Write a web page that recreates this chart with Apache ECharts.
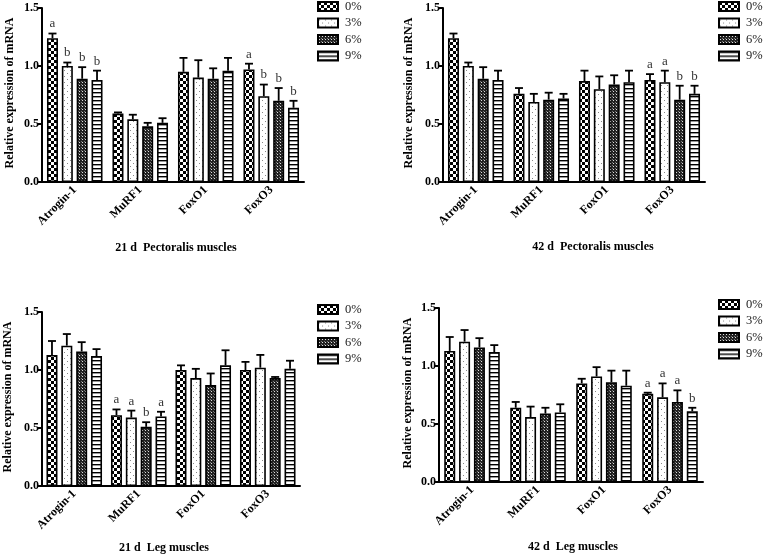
<!DOCTYPE html>
<html>
<head>
<meta charset="utf-8">
<script src="https://cdn.jsdelivr.net/npm/echarts@6/dist/echarts.min.js"></script>
<style>
  html, body { margin: 0; padding: 0; background: #fff; }
  #chart { width: 767px; height: 557px; }
</style>
</head>
<body>
<div id="chart"></div>
<script>
// 基因 / 剂量
var categories = ['Atrogin-1', 'MuRF1', 'FoxO1', 'FoxO3'];
var doses = ['0%', '3%', '6%', '9%'];
var yTicks = [0, 0.5, 1.0, 1.5];

// 每组: 0%, 3%, 6%, 9% -> 各基因的均值
var pec21Mean = [[1.24, 0.59, 0.95, 0.97], [1.00, 0.54, 0.90, 0.74], [0.89, 0.48, 0.89, 0.70], [0.88, 0.51, 0.96, 0.64]];
var pec21Err = [[0.04, 0.01, 0.12, 0.05], [0.03, 0.04, 0.15, 0.10], [0.10, 0.03, 0.09, 0.11], [0.08, 0.04, 0.11, 0.06]];
var pec21Letters = [['a', '', '', 'a'], ['b', '', '', 'b'], ['b', '', '', 'b'], ['b', '', '', 'b']];

var pec42Mean = [[1.24, 0.76, 0.87, 0.88], [1.00, 0.69, 0.80, 0.86], [0.89, 0.71, 0.84, 0.71], [0.88, 0.72, 0.86, 0.76]];
var pec42Err = [[0.04, 0.05, 0.09, 0.05], [0.03, 0.07, 0.11, 0.10], [0.10, 0.06, 0.08, 0.12], [0.08, 0.04, 0.10, 0.07]];
var pec42Letters = [['', '', '', 'a'], ['', '', '', 'a'], ['', '', '', 'b'], ['', '', '', 'b']];

var leg21Mean = [[1.13, 0.61, 1.00, 1.00], [1.21, 0.59, 0.93, 1.02], [1.16, 0.51, 0.87, 0.93], [1.12, 0.60, 1.04, 1.01]];
var leg21Err = [[0.12, 0.05, 0.04, 0.07], [0.10, 0.06, 0.08, 0.11], [0.08, 0.04, 0.10, 0.01], [0.06, 0.04, 0.13, 0.07]];
var leg21Letters = [['', 'a', '', ''], ['', 'a', '', ''], ['', 'b', '', ''], ['', 'a', '', '']];

var leg42Mean = [[1.13, 0.64, 0.85, 0.76], [1.21, 0.56, 0.91, 0.73], [1.16, 0.59, 0.86, 0.69], [1.12, 0.60, 0.83, 0.61]];
var leg42Err = [[0.12, 0.05, 0.04, 0.01], [0.10, 0.09, 0.08, 0.12], [0.08, 0.05, 0.10, 0.10], [0.06, 0.07, 0.13, 0.03]];
var leg42Letters = [['', '', '', 'a'], ['', '', '', 'a'], ['', '', '', 'a'], ['', '', '', 'b']];

var titles = ['21 d  Pectoralis muscles', '42 d  Pectoralis muscles', '21 d  Leg muscles', '42 d  Leg muscles'];

var BAR_W = 11;
var GAP = 0.35;
var SERIF = '"Liberation Serif", "Times New Roman", serif';

// 图案填充
function makePattern(kind) {
    var c = document.createElement('canvas');
    var ctx;
    if (kind == 'checker') {
        c.width = 6; c.height = 6; ctx = c.getContext('2d');
        ctx.fillStyle = '#fff'; ctx.fillRect(0, 0, 6, 6);
        ctx.fillStyle = '#000'; ctx.fillRect(0, 0, 3, 3); ctx.fillRect(3, 3, 3, 3);
    } else if (kind == 'dots') {
        c.width = 6; c.height = 6; ctx = c.getContext('2d');
        ctx.fillStyle = '#fff'; ctx.fillRect(0, 0, 6, 6);
        ctx.fillStyle = '#888'; ctx.fillRect(1, 1, 1, 1); ctx.fillRect(4, 4, 1, 1);
    } else if (kind == 'fine') {
        c.width = 3; c.height = 3; ctx = c.getContext('2d');
        ctx.fillStyle = '#222'; ctx.fillRect(0, 0, 3, 3);
        ctx.fillStyle = '#ddd'; ctx.fillRect(1, 1, 1, 1);
        ctx.fillStyle = '#777'; ctx.fillRect(0, 0, 1, 1);
    } else {
        c.width = 4; c.height = 4; ctx = c.getContext('2d');
        ctx.fillStyle = '#fff'; ctx.fillRect(0, 0, 4, 4);
        ctx.fillStyle = '#000'; ctx.fillRect(0, 0, 4, 1.4);
    }
    return {image: c, repeat: 'repeat'};
}
var fills = [makePattern('checker'), makePattern('dots'), makePattern('fine'), makePattern('stripes')];

var panels = [
    {mean: pec21Mean, err: pec21Err, letters: pec21Letters, grid: {left: 42, top: 8, width: 262, height: 174}, legend: {left: 317, top: 0}, title: [176, 248], yname: [10, 93]},
    {mean: pec42Mean, err: pec42Err, letters: pec42Letters, grid: {left: 443, top: 8, width: 262, height: 174}, legend: {left: 718, top: 0}, title: [593, 247], yname: [409, 93]},
    {mean: leg21Mean, err: leg21Err, letters: leg21Letters, grid: {left: 42, top: 312, width: 258, height: 174}, legend: {left: 317, top: 303}, title: [164, 548], yname: [8, 397]},
    {mean: leg42Mean, err: leg42Err, letters: leg42Letters, grid: {left: 439, top: 308, width: 264, height: 174}, legend: {left: 718, top: 298}, title: [573, 547], yname: [408, 393]}
];

function errRenderer(panel, k) {
    return function (params, api) {
        var x = api.value(0), m = api.value(1), e = api.value(2);
        var p0 = api.coord([x, m]);
        var p1 = api.coord([x, m + e]);
        var off = (k - 1.5) * BAR_W * (1 + GAP);
        var cx = p0[0] + off;
        var children = [
            {type: 'line', shape: {x1: cx, y1: p0[1], x2: cx, y2: p1[1]}, style: {stroke: '#000', lineWidth: 1.8}},
            {type: 'line', shape: {x1: cx - 4, y1: p1[1], x2: cx + 4, y2: p1[1]}, style: {stroke: '#000', lineWidth: 1.8}}
        ];
        var letter = panel.letters[k][params.dataIndex];
        if (letter) {
            children.push({type: 'text', x: cx, y: p1[1] - 3, style: {text: letter, fill: '#333', font: '13px ' + SERIF, align: 'center', verticalAlign: 'bottom'}});
        }
        return {type: 'group', children: children};
    };
}

var myChart = echarts.init(document.getElementById('chart'));

var grids = [], xAxes = [], yAxes = [], legends = [], series = [], graphics = [];
var each = function (arr, fn) { for (var i = 0; i < arr.length; i++) fn(i, arr[i]); };

each(panels, function (i, p) {
    grids.push(p.grid);
    xAxes.push({
        type: 'category', gridIndex: i, data: categories,
        axisLine: {lineStyle: {color: '#000', width: 2}},
        axisTick: {alignWithLabel: true, length: 5, lineStyle: {color: '#000', width: 2}},
        axisLabel: {rotate: 45, margin: 6, color: '#000', fontFamily: SERIF, fontWeight: 'bold', fontSize: 12}
    });
    yAxes.push({
        type: 'value', gridIndex: i, min: yTicks[0], max: yTicks[yTicks.length - 1], interval: 0.5,
        axisLine: {show: true, lineStyle: {color: '#000', width: 2}},
        axisTick: {show: true, length: 4, lineStyle: {color: '#000', width: 2}},
        splitLine: {show: false},
        axisLabel: {margin: 3, color: '#000', fontFamily: SERIF, fontWeight: 'bold', fontSize: 12,
            formatter: function (v) { return v.toFixed(1); }}
    });
    legends.push({
        left: p.legend.left, top: p.legend.top, orient: 'vertical', data: doses, padding: 0,
        icon: 'rect', itemWidth: 20, itemHeight: 9, itemGap: 3.5,
        textStyle: {fontFamily: SERIF, fontSize: 12.5, color: '#222', lineHeight: 13, padding: [0, 0, 0, 2]}
    });
    each(doses, function (k, d) {
        series.push({
            name: d, type: 'bar', xAxisIndex: i, yAxisIndex: i,
            barWidth: BAR_W, barGap: (GAP * 100) + '%',
            itemStyle: {color: fills[k], borderColor: '#000', borderWidth: 1.6},
            data: p.mean[k]
        });
    });
    each(doses, function (k, d) {
        var data = [];
        each(categories, function (c) { data.push([c, p.mean[k][c], p.err[k][c]]); });
        series.push({
            type: 'custom', xAxisIndex: i, yAxisIndex: i, z: 5,
            renderItem: errRenderer(p, k), data: data
        });
    });
    graphics.push({type: 'text', x: p.title[0], y: p.title[1],
        style: {text: titles[i], font: 'bold 12px ' + SERIF, fill: '#000', align: 'center', verticalAlign: 'middle'}});
    graphics.push({type: 'text', x: p.yname[0], y: p.yname[1], rotation: Math.PI / 2,
        style: {text: 'Relative expression of mRNA', font: 'bold 12px ' + SERIF, fill: '#000', align: 'center', verticalAlign: 'middle'}});
});

var options = {
    animation: false,
    grid: grids,
    xAxis: xAxes,
    yAxis: yAxes,
    legend: legends,
    graphic: graphics,
    series: series
};
myChart.setOption(options, true);
</script>
</body>
</html>
